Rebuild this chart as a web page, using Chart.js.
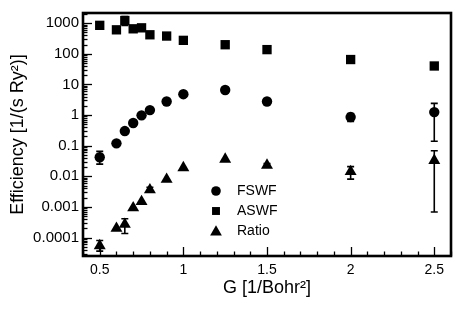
<!DOCTYPE html>
<html>
<head>
<meta charset="utf-8">
<script src="https://cdn.jsdelivr.net/npm/chart.js@4.4.1/dist/chart.umd.min.js"></script>
<style>
html,body{margin:0;padding:0;background:#fff;}
#wrap{width:463px;height:309px;}
</style>
</head>
<body>
<div id="wrap"><canvas id="c" width="463" height="309"></canvas></div>
<script>
// ---- data ----
const gValues = [0.5, 0.6, 0.65, 0.7, 0.75, 0.8, 0.9, 1.0, 1.25, 1.5, 2.0, 2.5];
const fswf  = [0.042, 0.119, 0.30, 0.55, 0.98, 1.45, 2.77, 4.8, 6.6, 2.77, 0.86, 1.25];
const fswfLo = [0.025, null, null, null, null, null, null, null, null, null, 0.62, 0.14];
const fswfHi = [0.065, null, null, null, null, null, null, null, null, null, 1.13, 2.4];
const aswf  = [850, 607, 1220, 655, 705, 418, 380, 275, 198, 137, 65, 40];
const aswfLo = [null, null, 850, null, null, null, null, null, null, null, null, null];
const aswfHi = [null, null, 1650, null, null, null, null, null, null, null, null, null];
const ratio = [5.4e-5, 2.0e-4, 2.7e-4, 9.3e-4, 1.5e-3, 3.6e-3, 8e-3, 0.019, 0.036, 0.023, 0.0143, 0.033];
const ratioLo = [3.6e-5, null, 1.35e-4, null, null, 3.1e-3, null, null, null, 0.020, 0.0081, 6.8e-4];
const ratioHi = [8.0e-5, null, 4.1e-4, null, null, 4.4e-3, null, null, null, 0.026, 0.0207, 0.068];
const seriesNames = ['FSWF', 'ASWF', 'Ratio'];
const xTickValues = [0.5, 1, 1.5, 2, 2.5];
const xTickLabels = ['0.5', '1', '1.5', '2', '2.5'];
const yTickValues = [0.0001, 0.001, 0.01, 0.1, 1, 10, 100, 1000];
const yTickLabels = ['0.0001', '0.001', '0.01', '0.1', '1', '10', '100', '1000'];
const xTitle = 'G [1/Bohr\u00B2]';
const yTitle = 'Efficiency [1/(s Ry\u00B2)]';

const toPts = arr => gValues.map((g, i) => ({x: g, y: arr[i]}));

function markerPath(ctx, style, x, y, r) {
  ctx.beginPath();
  if (style === 'circle') {
    ctx.arc(x, y, r, 0, Math.PI * 2);
  } else if (style === 'rect') {
    const s = Math.SQRT1_2 * r;
    ctx.rect(x - s, y - s, 2 * s, 2 * s);
  } else {
    let a = 0;
    ctx.moveTo(x + Math.sin(a) * r, y - Math.cos(a) * r);
    a += 2 * Math.PI / 3;
    ctx.lineTo(x + Math.sin(a) * r, y - Math.cos(a) * r);
    a += 2 * Math.PI / 3;
    ctx.lineTo(x + Math.sin(a) * r, y - Math.cos(a) * r);
    ctx.closePath();
  }
  ctx.fill();
}

const framePlugin = {
  id: 'frame',
  afterDraw(chart) {
    const {ctx, chartArea: a, scales} = chart;
    const xs = scales.x, ys = scales.y;
    ctx.save();
    ctx.strokeStyle = '#000';
    ctx.lineWidth = 1.3;
    for (let k = 4; k <= 26; k++) {
      const v = k / 10;
      const px = Math.round(xs.getPixelForValue(v)) + 0.5;
      const major = (k % 5 === 0);
      const len = major ? 9 : 4.5;
      ctx.beginPath();
      ctx.moveTo(px, a.bottom);
      ctx.lineTo(px, a.bottom - len);
      ctx.stroke();
    }
    for (let e = -5; e <= 3; e++) {
      for (let m = 1; m <= 9; m++) {
        const v = m * Math.pow(10, e);
        if (v < ys.min || v > ys.max) continue;
        const py = Math.round(ys.getPixelForValue(v)) + 0.5;
        const len = m === 1 ? 9 : 4.5;
        ctx.beginPath();
        ctx.moveTo(a.left, py);
        ctx.lineTo(a.left + len, py);
        ctx.stroke();
      }
    }
    ctx.lineWidth = 2.6;
    ctx.strokeRect(a.left, a.top, a.right - a.left, a.bottom - a.top);
    ctx.restore();
  }
};

const errorPlugin = {
  id: 'errbars',
  afterDatasetsDraw(chart) {
    const {ctx, scales} = chart;
    const xs = scales.x, ys = scales.y;
    ctx.save();
    ctx.strokeStyle = '#000';
    ctx.lineWidth = 1.6;
    chart.data.datasets.forEach(ds => {
      const lo = ds.errLo, hi = ds.errHi;
      if (!lo) return;
      gValues.forEach((g, i) => {
        if (lo[i] == null || hi[i] == null) return;
        const px = xs.getPixelForValue(g);
        const y1 = ys.getPixelForValue(lo[i]);
        const y2 = ys.getPixelForValue(hi[i]);
        ctx.beginPath();
        ctx.moveTo(px, y1); ctx.lineTo(px, y2);
        ctx.moveTo(px - 3.5, y1); ctx.lineTo(px + 3.5, y1);
        ctx.moveTo(px - 3.5, y2); ctx.lineTo(px + 3.5, y2);
        ctx.stroke();
      });
    });
    ctx.restore();
  }
};

const legendPlugin = {
  id: 'insideLegend',
  afterDraw(chart) {
    const {ctx} = chart;
    const rows = [
      {style: 'circle', r: 4.8, y: 191},
      {style: 'rect', r: 5.6, y: 211},
      {style: 'triangle', r: 6.8, y: 231}
    ];
    ctx.save();
    ctx.fillStyle = '#000';
    ctx.font = '14px "Liberation Sans", Arial, sans-serif';
    ctx.textBaseline = 'middle';
    ctx.textAlign = 'left';
    rows.forEach((row, i) => {
      markerPath(ctx, row.style, 216, row.y + (row.style === 'triangle' ? 1 : 0), row.r);
      ctx.fillText(chart.data.datasets[i].label, 237, row.y);
    });
    ctx.restore();
  }
};

const common = {
  showLine: false,
  backgroundColor: '#000',
  borderColor: '#000',
  borderWidth: 0,
  clip: false
};

new Chart(document.getElementById('c'), {
  type: 'scatter',
  data: {
    datasets: [
      Object.assign({label: seriesNames[0], data: toPts(fswf), pointStyle: 'circle', pointRadius: 5.2, errLo: fswfLo, errHi: fswfHi}, common),
      Object.assign({label: seriesNames[1], data: toPts(aswf), pointStyle: 'rect', pointRadius: 6.6, errLo: aswfLo, errHi: aswfHi}, common),
      Object.assign({label: seriesNames[2], data: toPts(ratio), pointStyle: 'triangle', pointRadius: 6.9, errLo: ratioLo, errHi: ratioHi}, common)
    ]
  },
  options: {
    responsive: false,
    animation: false,
    events: [],
    layout: {padding: {top: 11, right: 12, left: 0, bottom: 0}},
    plugins: {legend: {display: false}, tooltip: {enabled: false}},
    scales: {
      x: {
        type: 'linear',
        min: 0.4, max: 2.6,
        grid: {display: false, drawTicks: false},
        border: {display: false},
        afterBuildTicks: s => { s.ticks = xTickValues.map(v => ({value: v})); },
        afterFit: s => { s.height = 53; },
        ticks: {
          autoSkip: false, maxRotation: 0, padding: 6,
          color: '#000',
          font: {family: '"Liberation Sans", Arial, sans-serif', size: 14},
          callback: (v) => { const i = xTickValues.indexOf(v); return i >= 0 ? xTickLabels[i] : ''; }
        },
        title: {display: true, text: xTitle, color: '#000', padding: {top: 10, bottom: 10},
          font: {family: '"Liberation Sans", Arial, sans-serif', size: 18}}
      },
      y: {
        type: 'logarithmic',
        min: 2.5e-5, max: 2150,
        grid: {display: false, drawTicks: false},
        border: {display: false},
        afterBuildTicks: s => { s.ticks = yTickValues.map(v => ({value: v})); },
        afterFit: s => { s.width = 83; },
        ticks: {
          autoSkip: false, padding: 4,
          color: '#000',
          font: {family: '"Liberation Sans", Arial, sans-serif', size: 15},
          callback: (v) => { const i = yTickValues.indexOf(v); return i >= 0 ? yTickLabels[i] : ''; }
        },
        title: {display: true, text: yTitle, color: '#000', padding: {top: 7.5, bottom: 7.5},
          font: {family: '"Liberation Sans", Arial, sans-serif', size: 18}}
      }
    }
  },
  plugins: [errorPlugin, framePlugin, legendPlugin]
});
</script>
</body>
</html>
